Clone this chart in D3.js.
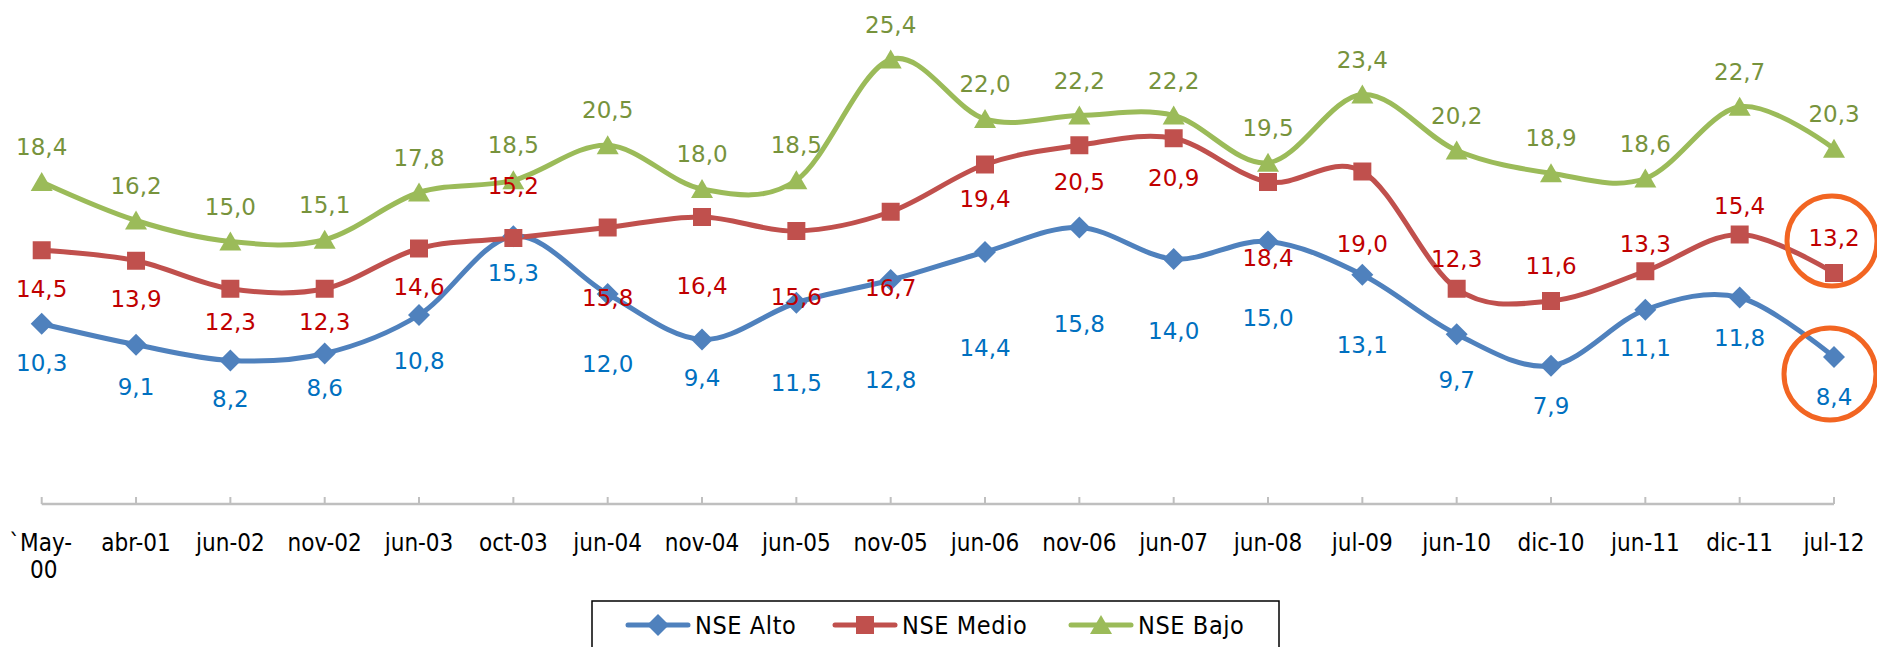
<!DOCTYPE html>
<html>
<head>
<meta charset="utf-8">
<script src="https://cdn.jsdelivr.net/npm/d3@7"></script>
<style>
	body { margin: 0; background: #fff; }
	svg { display: block; }
	.axis-label { font-family: "DejaVu Sans Condensed", "DejaVu Sans", sans-serif; font-size: 24px; fill: #000; }
	.data-label { font-family: "DejaVu Sans", sans-serif; font-size: 23px; }
	.legend-text { font-family: "DejaVu Sans Condensed", "DejaVu Sans", sans-serif; font-size: 25px; letter-spacing: 0.6px; fill: #000; }
</style>
</head>
<body>
<div id="chart"></div>
<script>
// categories and series
var categories = ["`May-00", "abr-01", "jun-02", "nov-02", "jun-03", "oct-03", "jun-04", "nov-04",
	"jun-05", "nov-05", "jun-06", "nov-06", "jun-07", "jun-08", "jul-09", "jun-10", "dic-10",
	"jun-11", "dic-11", "jul-12"];
var alto  = [10.3, 9.1, 8.2, 8.6, 10.8, 15.3, 12.0, 9.4, 11.5, 12.8, 14.4, 15.8, 14.0, 15.0, 13.1, 9.7, 7.9, 11.1, 11.8, 8.4];
var medio = [14.5, 13.9, 12.3, 12.3, 14.6, 15.2, 15.8, 16.4, 15.6, 16.7, 19.4, 20.5, 20.9, 18.4, 19.0, 12.3, 11.6, 13.3, 15.4, 13.2];
var bajo  = [18.4, 16.2, 15.0, 15.1, 17.8, 18.5, 20.5, 18.0, 18.5, 25.4, 22.0, 22.2, 22.2, 19.5, 23.4, 20.2, 18.9, 18.6, 22.7, 20.3];
var seriesNames = ["NSE Alto", "NSE Medio", "NSE Bajo"];

// hand placed label offsets (px from the marker), like in the original sheet
var altoLabelDy  = [39, 42, 38, 34, 46, 37, 70, 38, 80, 100, 96, 96, 72, 76, 70, 46, 40, 38, 40, 40];
var medioLabelDy = [39, 38, 33, 33, 38, -52, 70, 69, 66, 76, 34, 37, 40, 76, 72, -30, -35, -27, -29, -35];
var bajoLabelDy = -35;

var W = 1877, H = 647;
var svg = d3.select("#chart").append("svg")
	.attr("width", W)
	.attr("height", H);

var x = d3.scalePoint()
	.domain(categories)
	.range([41.7, 1834]);
var y = d3.scaleLinear()
	.domain([0, 28])
	.range([504, 14]);

var series = [
	{name: seriesNames[0], values: alto,  line: "#4F81BD", text: "#0070C0", marker: "diamond", dy: function(d, i) { return altoLabelDy[i]; }},
	{name: seriesNames[1], values: medio, line: "#C0504D", text: "#C00000", marker: "square",  dy: function(d, i) { return medioLabelDy[i]; }},
	{name: seriesNames[2], values: bajo,  line: "#9BBB59", text: "#77933C", marker: "triangle", dy: function() { return bajoLabelDy; }}
];

function markerPath(type)
{
	if(type == "diamond") return "M 0 -11 L 11 0 L 0 11 L -11 0 Z";
	if(type == "square") return "M -9 -9 L 9 -9 L 9 9 L -9 9 Z";
	return "M 0 -10 L 11 9 L -11 9 Z";
}

// x axis
var axisG = svg.append("g").attr("class", "x-axis");
axisG.append("line")
	.attr("x1", x(categories[0]))
	.attr("x2", x(categories[categories.length - 1]))
	.attr("y1", y(0)).attr("y2", y(0))
	.attr("stroke", "#BFBFBF")
	.attr("stroke-width", 2.5);
axisG.selectAll(".tick")
	.data(categories)
	.enter()
		.append("line")
		.attr("class", "tick")
		.attr("x1", function(d) { return x(d); })
		.attr("x2", function(d) { return x(d); })
		.attr("y1", y(0) - 7)
		.attr("y2", y(0))
		.attr("stroke", "#BFBFBF")
		.attr("stroke-width", 2);
var labels = axisG.selectAll(".axis-label")
	.data(categories)
	.enter()
		.append("text")
		.attr("class", "axis-label")
		.attr("text-anchor", "middle")
		.attr("x", function(d) { return x(d); })
		.attr("y", 551);
labels.each(function(d) {
	var t = d3.select(this);
	if(d.indexOf("`") == 0) {
		// long first label wraps onto two lines
		var parts = d.split("-");
		t.append("tspan").attr("x", x(d) - 1).text(parts[0] + "-");
		t.append("tspan").attr("x", x(d) + 2).attr("dy", 27).text(parts[1]);
	} else {
		t.text(d);
	}
});

// lines
var line = d3.line()
	.x(function(d, i) { return x(categories[i]); })
	.y(function(d) { return y(d); })
	.curve(d3.curveCardinal.tension(0));

var plot = svg.append("g").attr("class", "plot");
series.forEach(function(s) {
	plot.append("path")
		.attr("d", line(s.values))
		.attr("fill", "none")
		.attr("stroke", s.line)
		.attr("stroke-width", 5)
		.attr("stroke-linejoin", "round");
});
series.forEach(function(s) {
	plot.selectAll(".m-" + s.marker)
		.data(s.values)
		.enter()
			.append("path")
			.attr("class", "m-" + s.marker)
			.attr("d", markerPath(s.marker))
			.attr("fill", s.line)
			.attr("transform", function(d, i) { return "translate(" + x(categories[i]) + "," + y(d) + ")"; });
});
series.forEach(function(s) {
	plot.selectAll(".l-" + s.marker)
		.data(s.values)
		.enter()
			.append("text")
			.attr("class", "data-label l-" + s.marker)
			.attr("text-anchor", "middle")
			.attr("dominant-baseline", "central")
			.attr("fill", s.text)
			.attr("x", function(d, i) { return x(categories[i]); })
			.attr("y", function(d, i) { return y(d) + s.dy(d, i); })
			.text(function(d) { return d.toFixed(1).replace(".", ","); });
});

// highlight of the last reading
var last = categories.length - 1;
[{v: medio[last], dx: -2, dy: -32, r: 45}, {v: alto[last], dx: -4, dy: 17, r: 46}].forEach(function(c) {
	svg.append("circle")
		.attr("cx", x(categories[last]) + c.dx)
		.attr("cy", y(c.v) + c.dy)
		.attr("r", c.r)
		.attr("fill", "none")
		.attr("stroke", "#F26522")
		.attr("stroke-width", 5);
});

// legend
var legend = svg.append("g").attr("class", "legend");
legend.append("rect")
	.attr("x", 592).attr("y", 601)
	.attr("width", 687).attr("height", 60)
	.attr("fill", "#fff")
	.attr("stroke", "#000")
	.attr("stroke-width", 1.5);
var legendX = [628, 835, 1071];
series.forEach(function(s, i) {
	var g = legend.append("g").attr("transform", "translate(" + legendX[i] + ",625)");
	g.append("line")
		.attr("x1", 0).attr("x2", 60)
		.attr("stroke", s.line)
		.attr("stroke-width", 5)
		.attr("stroke-linecap", "round");
	g.append("path")
		.attr("d", markerPath(s.marker))
		.attr("fill", s.line)
		.attr("transform", "translate(30,0)");
	g.append("text")
		.attr("class", "legend-text")
		.attr("x", 67)
		.attr("y", 9)
		.text(s.name);
});
</script>
</body>
</html>
